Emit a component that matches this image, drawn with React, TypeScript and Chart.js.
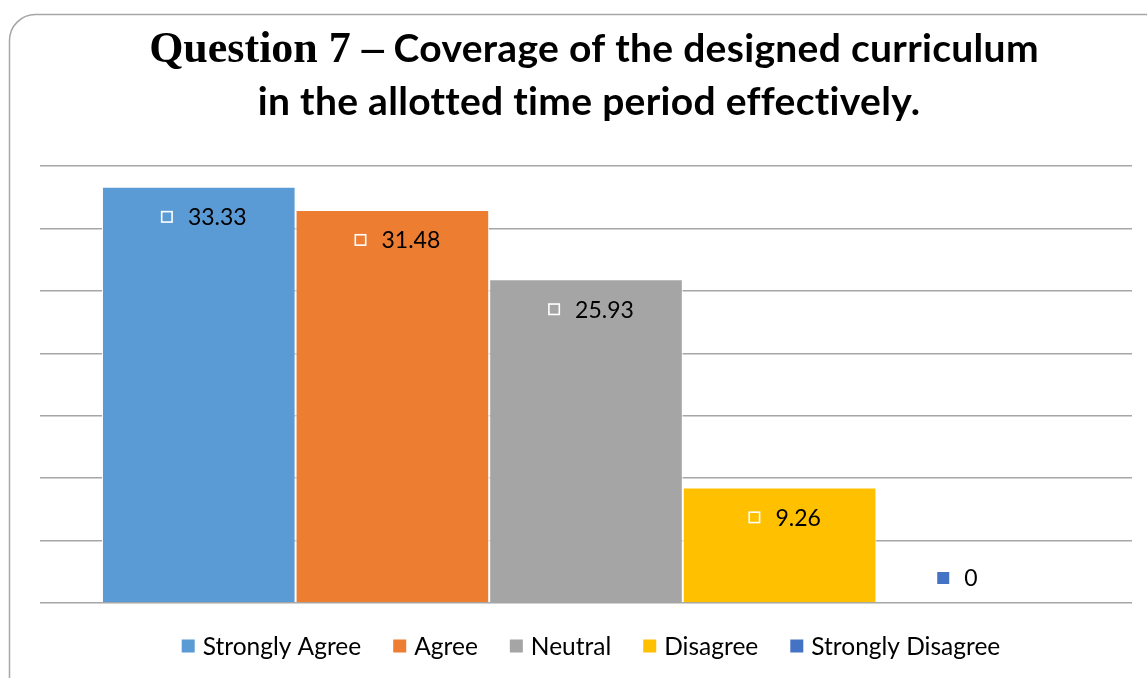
import React, { useEffect, useRef } from "react";
import { Chart, registerables } from "chart.js";

Chart.register(...registerables);

const seriesNames = ["Strongly Agree", "Agree", "Neutral", "Disagree", "Strongly Disagree"];
const seriesValues = [33.33, 31.48, 25.93, 9.26, 0];
const seriesColors = ["#5B9BD5", "#ED7D31", "#A5A5A5", "#FFC000", "#4472C4"];
const categories = [""];
const titleSerif = "Question 7 –";
const titleLine1 = " Coverage of the designed curriculum";
const titleLine2 = "in the allotted time period effectively.";

const SANS = "Lato, 'Open Sans', sans-serif";
const SERIF = "'Liberation Serif', 'DejaVu Serif', serif";

const decorPlugin = {
  id: "decor",
  beforeDraw(chart: any) {
    const ctx = chart.ctx;
    ctx.save();
    ctx.fillStyle = "#ffffff";
    ctx.fillRect(0, 0, chart.width, chart.height);
    ctx.strokeStyle = "#a6a6a6";
    ctx.lineWidth = 1.5;
    ctx.beginPath();
    (ctx as any).roundRect(9.5, 14.5, 1250, 760, 26);
    ctx.stroke();
    ctx.restore();
  },
  afterDraw(chart: any) {
    const ctx = chart.ctx;
    ctx.save();
    // Title
    const cx = 594;
    ctx.fillStyle = "#000000";
    ctx.textBaseline = "alphabetic";
    ctx.textAlign = "left";
    const serifFont = "bold 44px " + SERIF;
    const sansFont = "bold 39px " + SANS;
    (ctx as any).letterSpacing = "0px";
    ctx.font = serifFont;
    const w1 = ctx.measureText(titleSerif).width;
    (ctx as any).letterSpacing = "0.3px";
    ctx.font = sansFont;
    const w2 = ctx.measureText(titleLine1).width;
    const x = cx - (w1 + w2) / 2;
    (ctx as any).letterSpacing = "0px";
    ctx.font = serifFont;
    ctx.fillText(titleSerif, x, 62);
    (ctx as any).letterSpacing = "0.3px";
    ctx.font = sansFont;
    ctx.fillText(titleLine1, x + w1, 62);
    ctx.textAlign = "center";
    ctx.fillText(titleLine2, cx - 5, 115);
    (ctx as any).letterSpacing = "0px";

    // Data labels
    const labelFont = "23px " + SANS;
    ctx.font = labelFont;
    const base = chart.scales.y.getPixelForValue(0);
    seriesValues.forEach((v, i) => {
      const el = chart.getDatasetMeta(i).data[0];
      if (!el) return;
      const txt = String(v);
      ctx.font = labelFont;
      const tw = ctx.measureText(txt).width;
      const sq = 12;
      const gap = 15;
      const gw = sq + gap + tw;
      let gx: number;
      let cy: number;
      if (v === 0) {
        gx = el.x - 36;
        cy = base - 25;
      } else {
        gx = el.x + 5 - gw / 2;
        cy = el.y + 30;
      }
      if (v === 0) {
        ctx.fillStyle = seriesColors[i];
        ctx.fillRect(gx, cy - sq / 2, sq, sq);
      } else {
        ctx.strokeStyle = "#ffffff";
        ctx.lineWidth = 1.6;
        ctx.strokeRect(gx + 0.8, cy - sq / 2 + 0.8, sq - 1.6, sq - 1.6);
      }
      ctx.fillStyle = "#000000";
      ctx.textAlign = "left";
      ctx.textBaseline = "middle";
      ctx.fillText(txt, gx + sq + gap, cy + 1);
    });

    // Legend
    const legFont = "24.5px " + SANS;
    ctx.font = legFont;
    const box = 13;
    const boxGap = 8;
    const itemGap = 32;
    const widths = seriesNames.map((n) => ctx.measureText(n).width);
    const total =
      widths.reduce((a, b) => a + b, 0) + seriesNames.length * (box + boxGap) + itemGap * (seriesNames.length - 1);
    let lx = 591 - total / 2;
    const ly = 646;
    seriesNames.forEach((n, i) => {
      ctx.fillStyle = seriesColors[i];
      ctx.fillRect(lx, ly - box / 2, box, box);
      ctx.fillStyle = "#000000";
      ctx.textAlign = "left";
      ctx.textBaseline = "middle";
      ctx.fillText(n, lx + box + boxGap, ly + 1);
      lx += box + boxGap + widths[i] + itemGap;
    });
    ctx.restore();
  },
};

export default function App() {
  const ref = useRef<HTMLCanvasElement | null>(null);
  useEffect(() => {
    if (!ref.current) return;
    const chart = new Chart(ref.current, {
      type: "bar",
      data: {
        labels: categories,
        datasets: seriesNames.map((name, i) => ({
          label: name,
          data: [seriesValues[i]],
          backgroundColor: seriesColors[i],
          borderColor: "#ffffff",
          borderWidth: 1,
          categoryPercentage: 0.8865,
          barPercentage: 1,
        })),
      },
      options: {
        animation: false,
        responsive: true,
        maintainAspectRatio: false,
        layout: { padding: { left: 40, right: 15, top: 166, bottom: 75 } },
        plugins: {
          legend: { display: false },
          title: { display: false },
          tooltip: { enabled: false },
        },
        scales: {
          x: { display: false },
          y: {
            min: 0,
            max: 35,
            ticks: { display: false, stepSize: 5 },
            border: { display: false },
            grid: { color: "#a6a6a6", lineWidth: 1.4, drawTicks: false },
          },
        },
      },
      plugins: [decorPlugin],
    });
    return () => chart.destroy();
  }, []);
  return (
    <div style={{ position: "fixed", left: 0, top: 0, width: 1147, height: 678, background: "#fff" }}>
      <canvas ref={ref} />
    </div>
  );
}
